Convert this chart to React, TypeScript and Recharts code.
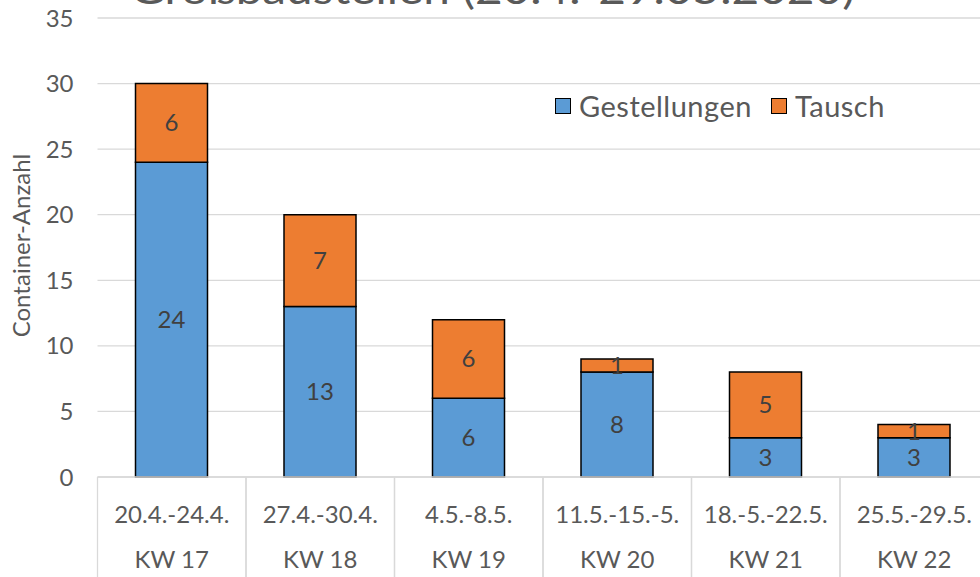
import React from 'react';
import { BarChart, Bar, XAxis, YAxis, CartesianGrid, LabelList, Legend, Label } from 'recharts';

const dateRanges = ['20.4.-24.4.', '27.4.-30.4.', '4.5.-8.5.', '11.5.-15.-5.', '18.-5.-22.5.', '25.5.-29.5.'];
const weeks = ['KW 17', 'KW 18', 'KW 19', 'KW 20', 'KW 21', 'KW 22'];
const gestellungen = [24, 13, 6, 8, 3, 3];
const tausch = [6, 7, 6, 1, 5, 1];
const yTicks = [0, 5, 10, 15, 20, 25, 30, 35];
const titleText = 'Großbaustellen (20.4.-29.05.2020)';
const yAxisTitle = 'Container-Anzahl';

const data = dateRanges.map((d, i) => ({
  dates: d,
  kw: weeks[i],
  Gestellungen: gestellungen[i],
  Tausch: tausch[i],
}));

const FONT = 'Lato, "Open Sans", sans-serif';
const TEXT = '#595959';
const GRID = '#d9d9d9';

const makeTick = (rowHeight: number) => (props: any) => {
  const { x, y, payload } = props;
  const off = payload && payload.offset ? payload.offset : 74;
  return (
    <g>
      <line x1={x - off} x2={x - off} y1={y} y2={y + rowHeight} stroke={GRID} strokeWidth={1.3} />
      <line x1={x + off} x2={x + off} y1={y} y2={y + rowHeight} stroke={GRID} strokeWidth={1.3} />
      <text x={x} y={y + 46} textAnchor="middle" fill={TEXT} fontSize={24} fontFamily={FONT}>
        {payload.value}
      </text>
    </g>
  );
};

const renderLegend = (props: any) => {
  const { payload } = props;
  return (
    <div style={{ display: 'flex', alignItems: 'center', fontFamily: FONT, fontSize: 29, color: TEXT, whiteSpace: 'nowrap', lineHeight: '30px' }}>
      {payload.map((p: any, i: number) => (
        <div key={i} style={{ display: 'flex', alignItems: 'center', marginRight: i === 0 ? 19 : 0 }}>
          <span
            style={{
              display: 'inline-block',
              width: 14,
              height: 14,
              background: p.color,
              border: '1.5px solid #000',
              marginRight: 8,
            }}
          />
          <span style={{ letterSpacing: 0.5 }}>{p.value}</span>
        </div>
      ))}
    </div>
  );
};

export default function App() {
  return (
    <div style={{ position: 'absolute', left: 0, top: 0, width: 980, height: 577, overflow: 'hidden', background: '#fff' }}>
      <svg width={980} height={30} style={{ position: 'absolute', left: 0, top: 0, zIndex: 2 }}>
        <text x={130} y={4} fontSize={40} fill={TEXT} fontFamily={FONT} textLength={725} lengthAdjust="spacingAndGlyphs">
          {titleText}
        </text>
      </svg>
      <BarChart
        width={990}
        height={577}
        data={data}
        margin={{ top: 18, right: 1.5, bottom: 0, left: 0 }}
        barSize={72}
      >
        <CartesianGrid vertical={false} stroke={GRID} strokeWidth={1.3} />
        <YAxis
          domain={[0, 35]}
          ticks={yTicks}
          width={97.5}
          axisLine={false}
          tickLine={false}
          tickSize={0}
          tickMargin={24}
          tick={{ fill: TEXT, fontSize: 24, fontFamily: FONT }}
        >
          <Label
            content={(p: any) => {
              const vb = p.viewBox || { x: 0, y: 18, height: 459 };
              const cx = 30;
              const cy = vb.y + vb.height / 2 - 2;
              return (
                <text
                  x={cx}
                  y={cy}
                  transform={`rotate(-90, ${cx}, ${cy})`}
                  textAnchor="middle"
                  fontSize={24}
                  fill={TEXT}
                  fontFamily={FONT}
                >
                  {yAxisTitle}
                </text>
              );
            }}
          />
        </YAxis>
        <XAxis
          dataKey="dates"
          height={45}
          interval={0}
          axisLine={{ stroke: GRID, strokeWidth: 1.3 }}
          tickLine={false}
          tickSize={0}
          tickMargin={0}
          tick={makeTick(45)}
        />
        <XAxis
          dataKey="kw"
          xAxisId="kw"
          height={55}
          interval={0}
          axisLine={false}
          tickLine={false}
          tickSize={0}
          tickMargin={0}
          tick={makeTick(55)}
        />
        <Legend
          layout="vertical"
          align="center"
          verticalAlign="middle"
          content={renderLegend}
          wrapperStyle={{ top: 91, left: 555, width: 'auto' }}
        />
        <Bar dataKey="Gestellungen" stackId="a" fill="#5B9BD5" stroke="#000" strokeWidth={1.5} isAnimationActive={false}>
          <LabelList dataKey="Gestellungen" position="center" fill="#404040" fontSize={24} fontFamily={FONT} />
        </Bar>
        <Bar dataKey="Tausch" stackId="a" fill="#ED7D31" stroke="#000" strokeWidth={1.5} isAnimationActive={false}>
          <LabelList dataKey="Tausch" position="center" fill="#404040" fontSize={24} fontFamily={FONT} />
        </Bar>
      </BarChart>
    </div>
  );
}
